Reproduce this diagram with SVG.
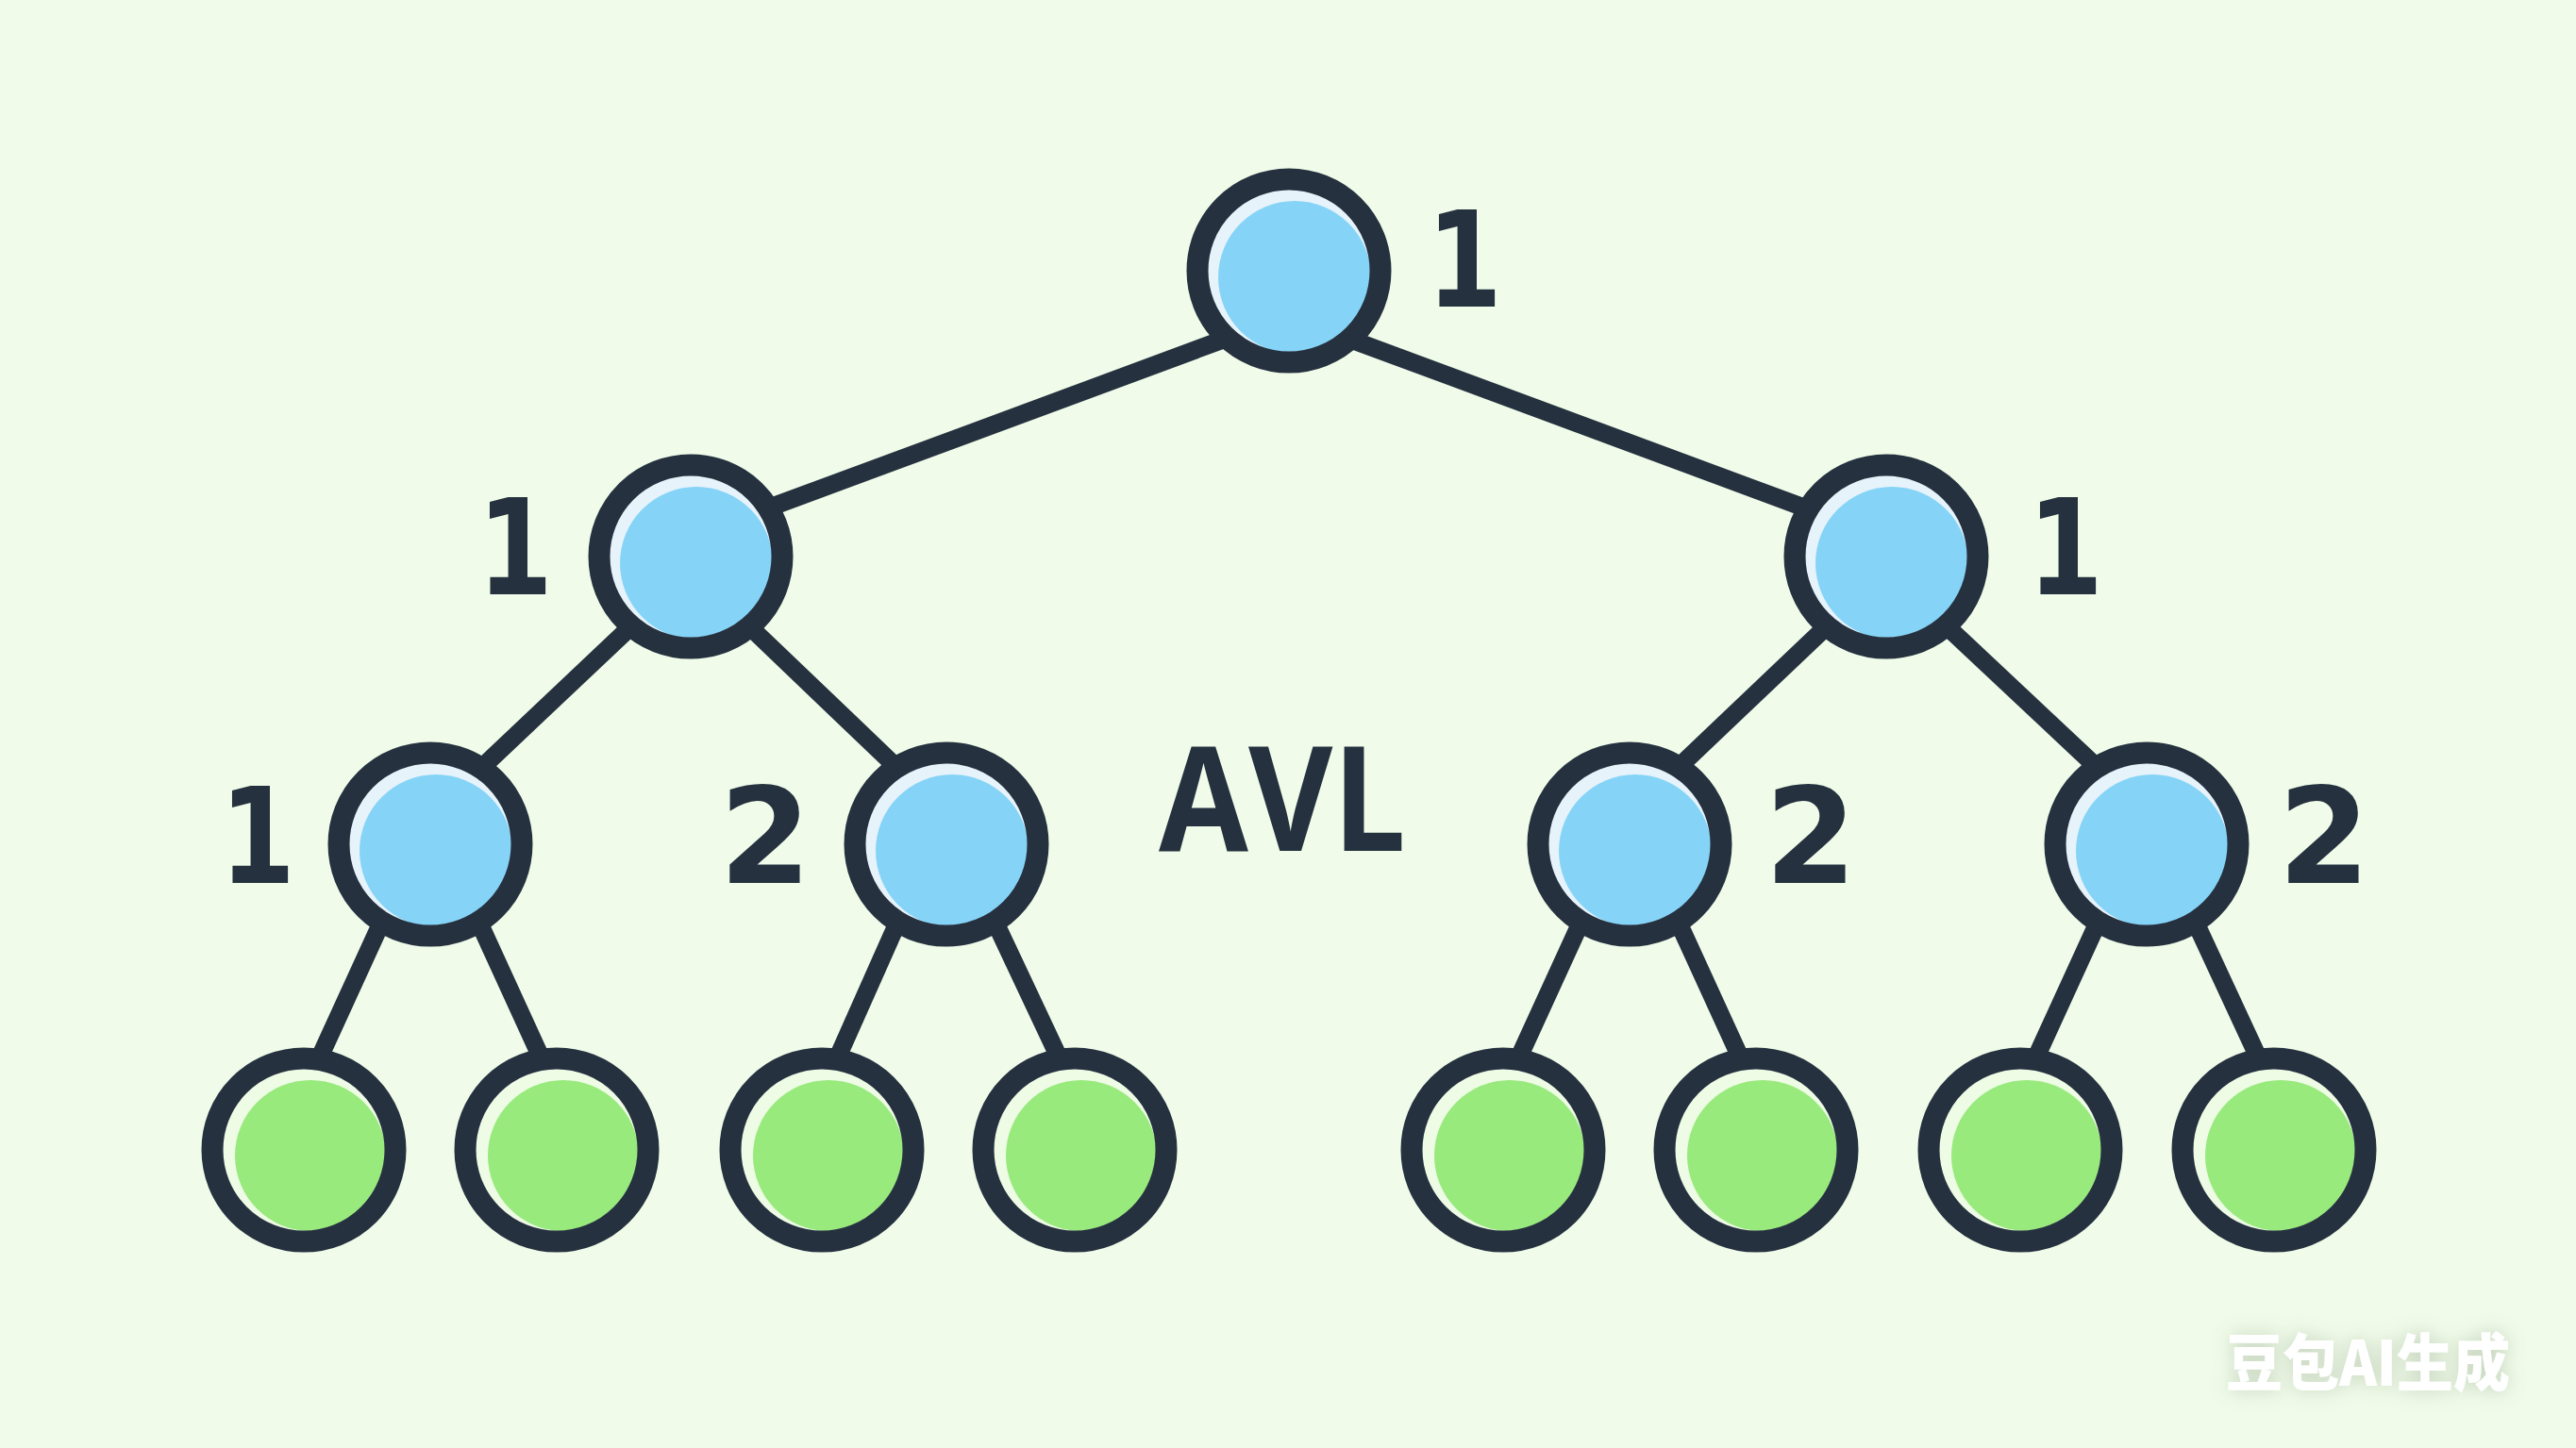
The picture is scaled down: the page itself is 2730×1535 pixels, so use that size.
<svg xmlns="http://www.w3.org/2000/svg" width="2730" height="1535" viewBox="0 0 2730 1535">
  <defs>
    <style>
      .ring{fill:none;stroke:#263140;stroke-width:23}
      .blue .inner{fill:#e7f3fb}
      .blue .disc{fill:#85d4f7}
      .green .inner{fill:#eefbe5}
      .green .disc{fill:#98ea7d}
      .edge{stroke:#263140;stroke-width:19;fill:none;stroke-linecap:butt}
      .lbl{font-family:"DejaVu Sans","Liberation Sans",sans-serif;font-weight:bold;font-size:140px;fill:#263140;text-anchor:middle}
      .title{font-family:"Open Sans","DejaVu Sans",sans-serif;font-weight:700;font-size:154px;fill:#263140}
      .wm{font-family:"Noto Sans CJK SC","Liberation Sans",sans-serif;font-weight:900;font-size:66px;fill:#ffffff}
    </style>
    <clipPath id="innerClip"><circle r="86"/></clipPath>
    <filter id="halo" x="-20%" y="-50%" width="140%" height="200%">
      <feDropShadow dx="0" dy="0" stdDeviation="10" flood-color="#6f7f66" flood-opacity="0.35"/>
    </filter>
  </defs>
  <rect width="2730" height="1535" fill="#f0fce9"/>

  <g id="connectors">
    <line class="edge" x1="1299" y1="359" x2="802" y2="543"/>
    <line class="edge" x1="1429" y1="359" x2="1928" y2="544"/>
    <line class="edge" x1="671" y1="662" x2="507" y2="817"/>
    <line class="edge" x1="792" y1="662" x2="954" y2="817"/>
    <line class="edge" x1="1938" y1="662" x2="1777" y2="815"/>
    <line class="edge" x1="2061" y1="662" x2="2224" y2="815"/>
    <line class="edge" x1="406" y1="974" x2="336" y2="1127"/>
    <line class="edge" x1="506" y1="974" x2="576" y2="1127"/>
    <line class="edge" x1="953" y1="974" x2="885" y2="1127"/>
    <line class="edge" x1="1053" y1="974" x2="1125" y2="1127"/>
    <line class="edge" x1="1677" y1="974" x2="1607" y2="1127"/>
    <line class="edge" x1="1777" y1="974" x2="1847" y2="1127"/>
    <line class="edge" x1="2225" y1="974" x2="2155" y2="1127"/>
    <line class="edge" x1="2325" y1="974" x2="2396" y2="1127"/>
  </g>

  <g id="n-root" class="blue" transform="translate(1366,287)">
    <circle class="inner" r="86"/><circle class="disc" cx="6" cy="7" r="81" clip-path="url(#innerClip)"/><circle class="ring" r="97"/>
  </g>
  <g id="n-l1-left" class="blue" transform="translate(732,590)">
    <circle class="inner" r="86"/><circle class="disc" cx="6" cy="7" r="81" clip-path="url(#innerClip)"/><circle class="ring" r="97"/>
  </g>
  <g id="n-l1-right" class="blue" transform="translate(1999,590)">
    <circle class="inner" r="86"/><circle class="disc" cx="6" cy="7" r="81" clip-path="url(#innerClip)"/><circle class="ring" r="97"/>
  </g>
  <g id="n-l2-a" class="blue" transform="translate(456,895)">
    <circle class="inner" r="86"/><circle class="disc" cx="6" cy="7" r="81" clip-path="url(#innerClip)"/><circle class="ring" r="97"/>
  </g>
  <g id="n-l2-b" class="blue" transform="translate(1003,895)">
    <circle class="inner" r="86"/><circle class="disc" cx="6" cy="7" r="81" clip-path="url(#innerClip)"/><circle class="ring" r="97"/>
  </g>
  <g id="n-l2-c" class="blue" transform="translate(1727,895)">
    <circle class="inner" r="86"/><circle class="disc" cx="6" cy="7" r="81" clip-path="url(#innerClip)"/><circle class="ring" r="97"/>
  </g>
  <g id="n-l2-d" class="blue" transform="translate(2275,895)">
    <circle class="inner" r="86"/><circle class="disc" cx="6" cy="7" r="81" clip-path="url(#innerClip)"/><circle class="ring" r="97"/>
  </g>

  <g id="n-leaf-1" class="green" transform="translate(322,1219)">
    <circle class="inner" r="86"/><circle class="disc" cx="7" cy="6" r="80" clip-path="url(#innerClip)"/><circle class="ring" r="97"/>
  </g>
  <g id="n-leaf-2" class="green" transform="translate(590,1219)">
    <circle class="inner" r="86"/><circle class="disc" cx="7" cy="6" r="80" clip-path="url(#innerClip)"/><circle class="ring" r="97"/>
  </g>
  <g id="n-leaf-3" class="green" transform="translate(871,1219)">
    <circle class="inner" r="86"/><circle class="disc" cx="7" cy="6" r="80" clip-path="url(#innerClip)"/><circle class="ring" r="97"/>
  </g>
  <g id="n-leaf-4" class="green" transform="translate(1139,1219)">
    <circle class="inner" r="86"/><circle class="disc" cx="7" cy="6" r="80" clip-path="url(#innerClip)"/><circle class="ring" r="97"/>
  </g>
  <g id="n-leaf-5" class="green" transform="translate(1593,1219)">
    <circle class="inner" r="86"/><circle class="disc" cx="7" cy="6" r="80" clip-path="url(#innerClip)"/><circle class="ring" r="97"/>
  </g>
  <g id="n-leaf-6" class="green" transform="translate(1861,1219)">
    <circle class="inner" r="86"/><circle class="disc" cx="7" cy="6" r="80" clip-path="url(#innerClip)"/><circle class="ring" r="97"/>
  </g>
  <g id="n-leaf-7" class="green" transform="translate(2141,1219)">
    <circle class="inner" r="86"/><circle class="disc" cx="7" cy="6" r="80" clip-path="url(#innerClip)"/><circle class="ring" r="97"/>
  </g>
  <g id="n-leaf-8" class="green" transform="translate(2410,1219)">
    <circle class="inner" r="86"/><circle class="disc" cx="7" cy="6" r="80" clip-path="url(#innerClip)"/><circle class="ring" r="97"/>
  </g>

  <g id="labels">
    <text class="lbl" x="1552" y="325" textLength="80" lengthAdjust="spacingAndGlyphs">1</text>
    <text class="lbl" x="546" y="630" textLength="80" lengthAdjust="spacingAndGlyphs">1</text>
    <text class="lbl" x="2189" y="630" textLength="80" lengthAdjust="spacingAndGlyphs">1</text>
    <text class="lbl" x="273" y="936" textLength="80" lengthAdjust="spacingAndGlyphs">1</text>
    <text class="lbl" x="811" y="936">2</text>
    <text class="lbl" x="1919" y="936">2</text>
    <text class="lbl" x="2463" y="936">2</text>
  </g>

  <g id="title">
    <text class="title" x="1228" y="902" textLength="262" lengthAdjust="spacingAndGlyphs">AVL</text>
  </g>

  <g id="watermark" filter="url(#halo)">
    <text class="wm" x="2359" y="1469" textLength="301" lengthAdjust="spacingAndGlyphs">豆包AI生成</text>
  </g>
</svg>
